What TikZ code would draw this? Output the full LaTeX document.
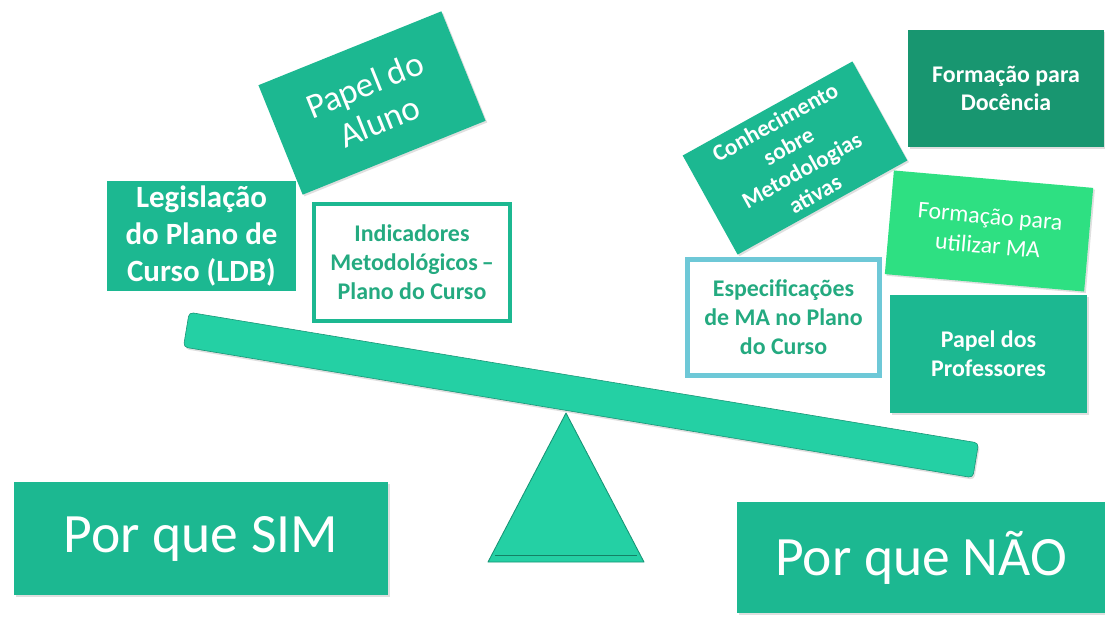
\documentclass[tikz,border=0pt]{standalone}
\usepackage{fontspec}
\setmainfont{Carlito}
\usepackage{xcolor}
\usepackage{tikz}
\usetikzlibrary{shadows}
\definecolor{boxteal}{RGB}{28,184,145}
\definecolor{darkteal}{RGB}{24,150,112}
\definecolor{lightgreen}{RGB}{46,224,130}
\definecolor{beamteal}{RGB}{36,208,164}
\definecolor{textteal}{RGB}{36,170,128}
\definecolor{bordblue}{RGB}{110,200,215}

\begin{document}
\begin{tikzpicture}[x=0.025cm,y=-0.025cm,
  card/.style={fill=boxteal,text=white,align=center,inner sep=0pt,
    font=\bfseries\fontsize{17}{20.5}\selectfont,
    drop shadow={opacity=.25,shadow xshift=1.2pt,shadow yshift=-1.2pt}},
  outline/.style={card,fill=white,text=textteal,line width=2.8pt},
  bigcard/.style={card,font=\fontsize{39.5}{46}\selectfont}]
  \useasboundingbox[fill=white] (0,0) rectangle (1105,617);
  % the seesaw
  \node[fill=beamteal,draw=boxteal!80!black,rounded corners=3pt,rotate=-9.4,
    minimum width=20cm,minimum height=0.88cm,
    drop shadow={opacity=.25,shadow xshift=1pt,shadow yshift=-1.5pt}] (beam) at (581,395) {};
  \draw[fill=beamteal,draw=boxteal!80!black,line width=0.6pt,line join=round] (566,413) -- (644,562) -- (488,562) -- cycle;
  \draw[boxteal!70!black,line width=0.5pt] (495,555) -- (637,555);
  % left side
  \node[card,draw=white,line width=1.5pt,minimum width=4.8cm,minimum height=2.78cm,
    font=\bfseries\fontsize{22}{26.5}\selectfont] (legis) at (201.5,236) {Legislação\\do Plano de\\Curso (LDB)};
  \node[outline,draw=boxteal,minimum width=4.9cm,minimum height=2.93cm] (indic) at (412,262.5) {Indicadores\\Metodológicos\,--\\Plano do Curso};
  \node[card,rotate=22,minimum width=4.93cm,minimum height=2.95cm,
    font=\fontsize{25}{28}\selectfont] (aluno) at (372,103) {Papel do\\Aluno};
  % right side
  \node[card,fill=darkteal,minimum width=4.9cm,minimum height=2.93cm] (docencia) at (1006,88.5) {Formação para\\Docência};
  \node[card,rotate=29,minimum width=4.85cm,minimum height=2.83cm,
    font=\bfseries\fontsize{16.5}{19.5}\selectfont] (conhec) at (795,158) {Conhecimento\\sobre\\Metodologias\\ativas};
  \node[card,fill=lightgreen,rotate=-5,minimum width=5cm,minimum height=2.6cm,
    font=\fontsize{17}{21}\selectfont] (utilizar) at (989,231) {Formação para\\utilizar MA};
  \node[outline,draw=bordblue,line width=3.5pt,minimum width=4.8cm,minimum height=2.9cm] (especif) at (783.5,317.5) {Especificações\\de MA no Plano\\do Curso};
  \node[card,minimum width=4.93cm,minimum height=2.95cm] (prof) at (988.5,354) {Papel dos\\Professores};
  % answers
  \node[bigcard,minimum width=9.35cm,minimum height=2.83cm] (sim) at (201,538.5) {Por que SIM};
  \node[bigcard,minimum width=9.2cm,minimum height=2.78cm] (nao) at (921,557.5) {Por que NÃO};
\end{tikzpicture}
\end{document}
